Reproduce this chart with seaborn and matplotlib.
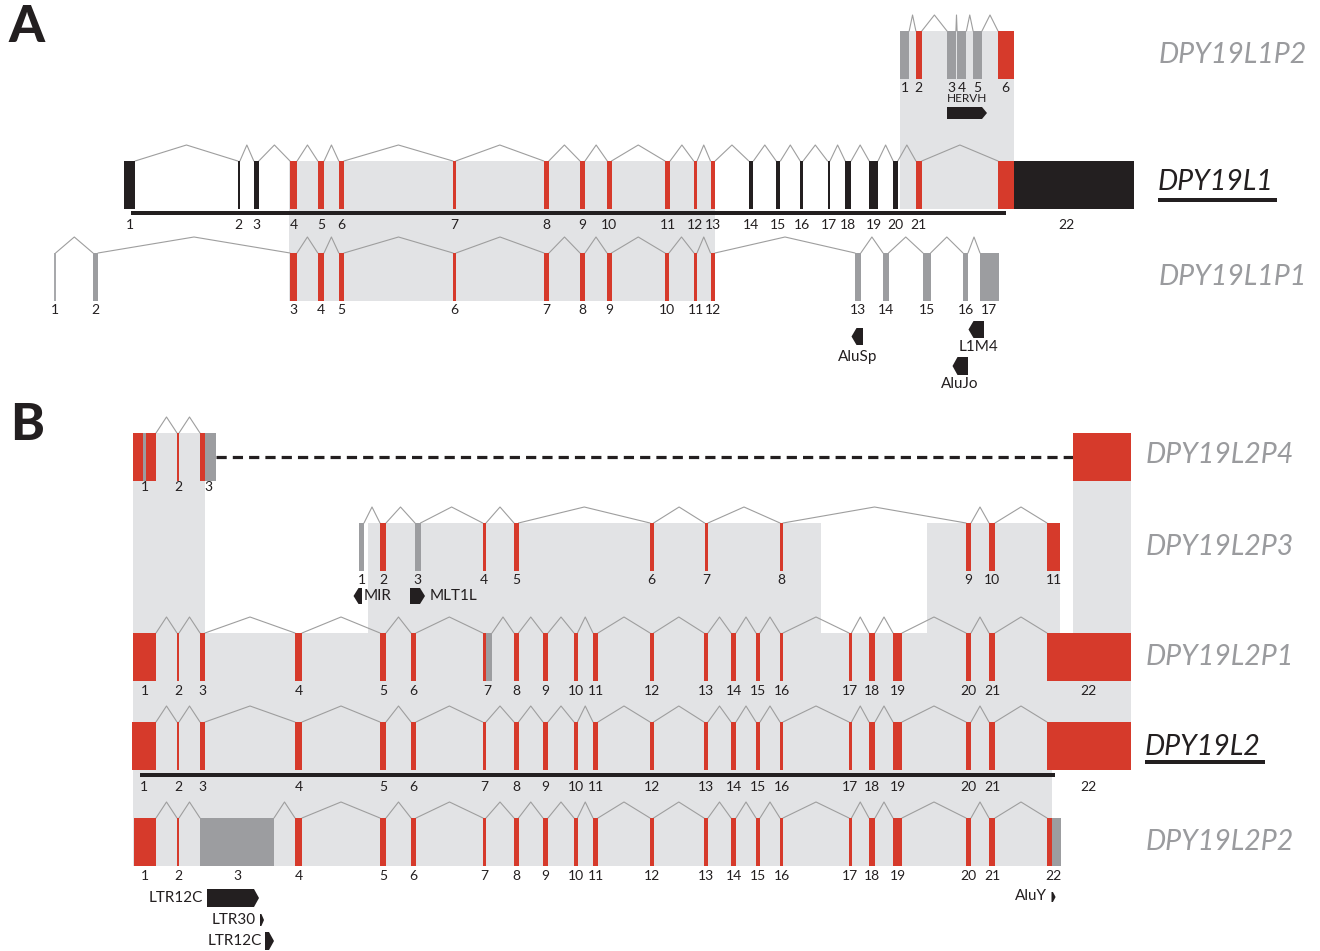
import numpy as np
import pandas as pd
import matplotlib
matplotlib.use("Agg")
import matplotlib.pyplot as plt
from matplotlib.patches import Rectangle, Polygon
import seaborn as sns

# ======================= DATA =======================
# exon segments along the locus axis; colour class: r = conserved (red), g = grey, k = black
# ---- panel A ----
L1P2_start = [899.9, 915.9, 947.0, 957.1, 973.1, 998.0]
L1P2_end   = [909.2, 921.8, 955.9, 966.4, 982.0, 1013.5]
L1P2_cls   = ['g', 'r', 'g', 'g', 'g', 'r']
L1P2_exon  = [1, 2, 3, 4, 5, 6]

L1_start = [124.2, 237.8, 253.8, 290.0, 317.8, 338.8, 452.9, 543.8, 580.0, 607.3, 665.0,
            693.7, 710.5, 748.8, 776.2, 800.2, 827.5, 845.2, 869.2, 893.2, 915.9, 998.0, 1013.5]
L1_end   = [135.1, 239.9, 258.8, 297.1, 324.1, 343.9, 455.8, 548.8, 585.0, 611.5, 670.1,
            697.0, 715.1, 753.4, 780.4, 803.1, 830.0, 851.1, 878.0, 897.8, 921.8, 1013.5, 1134.0]
L1_cls   = ['k', 'k', 'k', 'r', 'r', 'r', 'r', 'r', 'r', 'r', 'r',
            'r', 'r', 'k', 'k', 'k', 'k', 'k', 'k', 'k', 'r', 'r', 'k']
L1_exon  = [1, 2, 3, 4, 5, 6, 7, 8, 9, 10, 11, 12, 13, 14, 15, 16, 17, 18, 19, 20, 21, 22, 22]

L1P1_start = [53.9, 93.0, 290.0, 317.8, 338.8, 453.0, 544.0, 580.0, 607.0, 665.0, 694.0,
              710.5, 855.0, 883.0, 923.0, 963.0, 980.0]
L1P1_end   = [55.6, 98.0, 297.0, 324.0, 344.0, 456.0, 549.0, 585.0, 611.5, 669.0, 697.0,
              715.0, 860.8, 888.5, 930.6, 968.0, 998.8]
L1P1_cls   = ['l', 'g', 'r', 'r', 'r', 'r', 'r', 'r', 'r', 'r', 'r',
              'r', 'g', 'g', 'g', 'g', 'g']
L1P1_exon  = list(range(1, 18))

# ---- panel B ----
L2P4_start = [133.0, 143.0, 146.0, 177.0, 200.0, 205.4, 1072.5]
L2P4_end   = [143.0, 146.0, 156.0, 179.0, 205.4, 216.0, 1130.5]
L2P4_cls   = ['r', 'g', 'r', 'r', 'r', 'g', 'r']
L2P4_exon  = [1, 1, 1, 2, 3, 3, 4]

L2P3_start = [359.0, 380.0, 415.0, 482.7, 514.0, 650.0, 704.6, 780.0, 966.0, 989.0, 1047.0]
L2P3_end   = [364.0, 386.0, 420.5, 486.0, 518.5, 653.6, 708.0, 783.0, 971.0, 995.0, 1060.0]
L2P3_cls   = ['g', 'r', 'g', 'r', 'r', 'r', 'r', 'r', 'r', 'r', 'r']
L2P3_exon  = list(range(1, 12))

L2P1_start = [133.0, 177.0, 200.0, 295.0, 380.0, 411.0, 482.7, 486.0, 514.0, 543.0, 574.0, 593.0,
              650.0, 704.0, 731.0, 756.0, 780.0, 849.0, 869.0, 893.0, 966.0, 989.0, 1047.0]
L2P1_end   = [156.0, 179.0, 205.0, 302.0, 386.0, 416.0, 486.0, 492.0, 518.5, 548.0, 577.5, 598.0,
              653.6, 708.0, 736.0, 760.0, 783.0, 851.5, 875.0, 902.0, 971.0, 995.0, 1130.5]
L2P1_cls   = ['r'] * 7 + ['g'] + ['r'] * 15
L2P1_exon  = [1, 2, 3, 4, 5, 6, 7, 7, 8, 9, 10, 11, 12, 13, 14, 15, 16, 17, 18, 19, 20, 21, 22]

L2_start = [132.0, 177.0, 200.0, 295.0, 380.0, 411.0, 482.7, 514.0, 543.0, 574.0, 593.0,
            650.0, 704.0, 731.0, 756.0, 780.0, 849.0, 869.0, 893.0, 966.0, 989.0, 1047.0]
L2_end   = [156.0, 179.0, 205.0, 302.0, 386.0, 416.0, 486.0, 518.5, 548.0, 577.5, 598.0,
            653.6, 708.0, 736.0, 760.0, 783.0, 851.5, 875.0, 902.0, 971.0, 995.0, 1130.5]
L2_cls   = ['r'] * 22
L2_exon  = list(range(1, 23))

L2P2_start = [134.0, 177.0, 200.0, 295.0, 380.0, 411.0, 483.0, 514.0, 543.0, 574.0, 593.0,
              650.0, 704.0, 731.0, 756.0, 780.0, 849.0, 869.0, 893.0, 966.0, 989.0, 1047.0, 1051.5]
L2P2_end   = [156.0, 179.0, 274.0, 302.0, 386.0, 416.0, 486.0, 518.5, 548.0, 577.5, 598.0,
              653.6, 708.0, 736.0, 760.0, 783.0, 851.5, 875.0, 902.0, 971.0, 995.0, 1051.5, 1060.7]
L2P2_cls   = ['r', 'r', 'g'] + ['r'] * 19 + ['g']
L2P2_exon  = list(range(1, 23)) + [22]

gene_names = ['DPY19L1P2', 'DPY19L1', 'DPY19L1P1',
              'DPY19L2P4', 'DPY19L2P3', 'DPY19L2P1', 'DPY19L2', 'DPY19L2P2']
functional = ['DPY19L1', 'DPY19L2']
unlabelled_exons = {'DPY19L2P4': [4]}
broken_introns = {'DPY19L2P4': [(3, 4)]}   # drawn as dashed gap

# coding-sequence bars under functional genes (locus start, end)
cds_L1 = (131.0, 1006.0)
cds_L2 = (140.0, 1055.0)

# repeat elements: name, start, end, strand
repeat_name   = ['HERVH', 'AluSp', 'L1M4', 'AluJo', 'MIR', 'MLT1L', 'LTR12C', 'LTR30', 'LTR12C', 'AluY']
repeat_start  = [947.0, 851.5, 968.5, 952.5, 353.5, 410.0, 207.0, 260.0, 265.0, 1051.5]
repeat_end    = [987.0, 863.0, 984.0, 968.0, 362.0, 425.0, 259.0, 264.0, 274.0, 1055.6]
repeat_strand = ['+', '-', '-', '-', '-', '+', '+', '+', '+', '+']

# ======================= LAYOUT / STYLE =======================
W, H = 1320, 951
# row geometry: exon top, exon bottom, intron apex, exon-number y, name x, name y
rows = {
    'DPY19L1P2': (31, 79, 15, 88, 1159, 55),
    'DPY19L1':   (161, 209, 145, 225, 1158, 182),
    'DPY19L1P1': (253, 301, 237, 310, 1159, 277),
    'DPY19L2P4': (433, 481, 417, 487, 1146, 455),
    'DPY19L2P3': (523, 571, 507, 580, 1146, 547),
    'DPY19L2P1': (633, 681, 617, 691, 1146, 657),
    'DPY19L2':   (722, 770, 706, 787, 1145, 747),
    'DPY19L2P2': (818, 866, 802, 876, 1146, 842),
}
gene_data = {
    'DPY19L1P2': (L1P2_start, L1P2_end, L1P2_cls, L1P2_exon),
    'DPY19L1':   (L1_start, L1_end, L1_cls, L1_exon),
    'DPY19L1P1': (L1P1_start, L1P1_end, L1P1_cls, L1P1_exon),
    'DPY19L2P4': (L2P4_start, L2P4_end, L2P4_cls, L2P4_exon),
    'DPY19L2P3': (L2P3_start, L2P3_end, L2P3_cls, L2P3_exon),
    'DPY19L2P1': (L2P1_start, L2P1_end, L2P1_cls, L2P1_exon),
    'DPY19L2':   (L2_start, L2_end, L2_cls, L2_exon),
    'DPY19L2P2': (L2P2_start, L2P2_end, L2P2_cls, L2P2_exon),
}
shade_boxes = [  # x0, x1, y0, y1 (conserved-region shading)
    (289, 715, 161, 301), (900, 1013.5, 31, 209),
    (133, 205, 433, 633), (368, 821, 523, 633), (927, 1060, 523, 633),
    (1072.5, 1130.5, 481, 633), (133, 1130.5, 633, 770), (133, 1051.5, 770, 866),
]
# repeat glyph boxes (y0, y1) and text placement (x, y, ha, size)
repeat_y = [(107, 119), (328, 345), (321, 338), (357, 375), (588, 604), (588, 604),
            (889, 907), (914, 926), (932, 950), (892, 902)]
repeat_txt = [(967, 99, 'center', 8.5), (857.5, 357, 'center', 11), (979, 347, 'center', 11),
              (960, 384, 'center', 11), (364, 596, 'left', 11), (430, 596, 'left', 11),
              (203, 898, 'right', 11), (256, 920, 'right', 11), (262, 941, 'right', 11),
              (1047, 896, 'right', 11)]

PAL = {'r': '#D63A2B', 'g': '#9C9DA0', 'k': '#231F20', 'l': '#A8A9AC'}
BG = '#E2E3E5'
INTRON = '#9E9E9E'
DARK = '#231F20'
GREYTXT = '#9A9B9E'

sns.set_theme(style="white")
plt.rcParams['font.family'] = ['Lato', 'DejaVu Sans']

fig = plt.figure(figsize=(W / 100, H / 100), dpi=100)
ax = fig.add_axes([0, 0, 1, 1])

for (x0, x1, y0, y1) in shade_boxes:
    ax.add_patch(Rectangle((x0, y0), x1 - x0, y1 - y0, fc=BG, ec='none', zorder=0))

# introns via seaborn
recs = []
uid = 0
for g in gene_names:
    s, e, c, ex = gene_data[g]
    top, bot, apex, ly, nx, ny = rows[g]
    ids = sorted(set(ex))
    gs = {i: min(a for a, k in zip(s, ex) if k == i) for i in ids}
    ge = {i: max(b for b, k in zip(e, ex) if k == i) for i in ids}
    for a, b in zip(ids[:-1], ids[1:]):
        if (a, b) in broken_introns.get(g, []):
            ax.plot([ge[a], gs[b]], [(top + bot) / 2, (top + bot) / 2], color=DARK,
                    lw=2.3, dashes=(3.2, 1.9), solid_capstyle='butt', zorder=2)
            continue
        xa, xb = ge[a], gs[b]
        for x, y in [(xa, top), ((xa + xb) / 2, apex), (xb, top)]:
            recs.append({'x': x, 'y': y, 'uid': uid})
        uid += 1
df = pd.DataFrame(recs)
sns.lineplot(data=df, x='x', y='y', units='uid', estimator=None, sort=False,
             color=INTRON, lw=0.8, ax=ax, legend=False, zorder=1)

# exons, numbers, names
for g in gene_names:
    s, e, c, ex = gene_data[g]
    top, bot, apex, ly, nx, ny = rows[g]
    for a, b, k in zip(s, e, c):
        ax.add_patch(Rectangle((a, top), b - a, bot - top, fc=PAL[k], ec='none', lw=0, zorder=3))
    for i in sorted(set(ex)):
        if i in unlabelled_exons.get(g, []):
            continue
        a = min(x for x, k in zip(s, ex) if k == i)
        b = max(x for x, k in zip(e, ex) if k == i)
        ax.text((a + b) / 2, ly, str(i), ha='center', va='center', fontsize=10, color=DARK, zorder=4)
    main = g in functional
    t = ax.text(nx, ny, g, ha='left', va='center', fontsize=20.5, style='italic',
                color=DARK if main else GREYTXT, zorder=4)
    if main:
        uy = ny + 18 if g == 'DPY19L1' else ny + 15
        ax.add_patch(Rectangle((nx, uy - 2), 119 if g == 'DPY19L1' else 120, 4, fc=DARK, ec='none'))

# CDS bars
ax.add_patch(Rectangle((cds_L1[0], 211), cds_L1[1] - cds_L1[0], 4, fc=DARK, ec='none', zorder=3))
ax.add_patch(Rectangle((cds_L2[0], 773), cds_L2[1] - cds_L2[0], 4, fc=DARK, ec='none', zorder=3))

# repeats
for name, a, b, st, (y0, y1), (tx, ty, ha, fs) in zip(repeat_name, repeat_start, repeat_end,
                                                       repeat_strand, repeat_y, repeat_txt):
    tip = min(5.0, 0.65 * (b - a))
    m = (y0 + y1) / 2
    if st == '+':
        pts = [(a, y0), (b - tip, y0), (b, m), (b - tip, y1), (a, y1)]
    else:
        pts = [(b, y0), (a + tip, y0), (a, m), (a + tip, y1), (b, y1)]
    ax.add_patch(Polygon(pts, closed=True, fc=DARK, ec='none', zorder=4))
    ax.text(tx, ty, name, ha=ha, va='center', fontsize=fs, color=DARK, zorder=4)

# panel letters
ax.text(8, 28, 'A', ha='left', va='center', fontsize=37, fontweight='black', color=DARK)
ax.text(10, 425, 'B', ha='left', va='center', fontsize=37, fontweight='black', color=DARK)

ax.set_xlim(0, W)
ax.set_ylim(H, 0)
ax.axis('off')
fig.savefig('out.png', dpi=100)
